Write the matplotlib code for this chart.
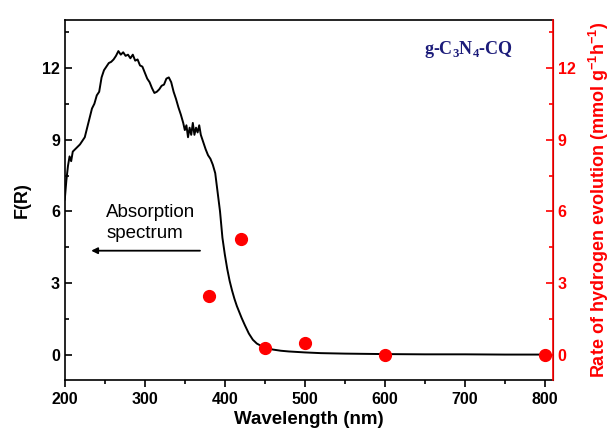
import matplotlib
matplotlib.use("Agg")
import matplotlib.pyplot as plt
from matplotlib.ticker import MultipleLocator

plt.rcParams['font.family'] = ['Liberation Sans', 'DejaVu Sans']
plt.rcParams['mathtext.fontset'] = 'custom'
plt.rcParams['mathtext.rm'] = 'Liberation Sans:bold'
plt.rcParams['mathtext.bf'] = 'Liberation Serif:bold'

# absorption spectrum, F(R) vs wavelength
wavelength = [200, 202, 204, 206, 208, 210, 213, 216, 219, 222, 225, 228, 231, 234,
              237, 240, 243, 246, 249, 252, 255, 258, 261, 264, 267, 270, 273, 276,
              279, 282, 285, 288, 291, 294, 297, 300, 303, 306, 309, 312, 315, 318,
              321, 324, 327, 330, 333, 336, 339, 342, 345, 348, 350, 352, 354, 356,
              358, 360, 362, 364, 366, 368, 370, 373, 376, 379, 382, 385, 388, 391,
              394, 397, 400, 403, 406, 409, 412, 415, 418, 421, 425, 430, 435, 440,
              445, 450, 455, 460, 470, 480, 500, 520, 550, 600, 650, 700, 750, 800]
f_r = [6.5, 7.3, 7.9, 8.3, 8.1, 8.5, 8.6, 8.7, 8.8, 8.95, 9.1, 9.5, 9.9, 10.3,
       10.5, 10.85, 11.0, 11.6, 11.9, 12.05, 12.2, 12.25, 12.35, 12.5, 12.7, 12.55, 12.65, 12.5,
       12.55, 12.4, 12.55, 12.3, 12.35, 12.1, 12.05, 11.8, 11.55, 11.4, 11.15, 10.95, 11.0, 11.1,
       11.25, 11.3, 11.55, 11.6, 11.4, 11.0, 10.7, 10.35, 10.05, 9.7, 9.4, 9.6, 9.1, 9.5,
       9.2, 9.7, 9.2, 9.5, 9.3, 9.6, 9.2, 8.9, 8.6, 8.35, 8.2, 7.95, 7.6, 6.8,
       6.0, 4.9, 4.2, 3.6, 3.1, 2.7, 2.35, 2.05, 1.8, 1.55, 1.25, 0.9, 0.64, 0.48,
       0.39, 0.32, 0.27, 0.23, 0.18, 0.15, 0.11, 0.08, 0.06, 0.04, 0.03, 0.03, 0.02, 0.02]

# hydrogen evolution rate at each irradiation wavelength
h2_wavelength = [380, 420, 450, 500, 600, 800]
h2_rate = [2.48, 4.85, 0.3, 0.52, 0.02, 0.02]

red = '#ff0000'

fig = plt.figure(figsize=(6.11, 4.34), dpi=100)
ax = fig.add_axes([0.106, 0.124, 0.799, 0.830])
ax2 = ax.twinx()

ax.plot(wavelength, f_r, color='black', lw=1.4)
ax2.plot(h2_wavelength, h2_rate, 'o', color=red, ms=8.5, clip_on=False, zorder=5)

ax.set_xlim(200, 810)
ax.set_ylim(-1.05, 14.0)
ax2.set_ylim(-1.05, 14.0)

ax.xaxis.set_major_locator(MultipleLocator(100))
ax.xaxis.set_minor_locator(MultipleLocator(50))
ax.yaxis.set_major_locator(MultipleLocator(3))
ax.yaxis.set_minor_locator(MultipleLocator(1.5))
ax2.yaxis.set_major_locator(MultipleLocator(3))
ax2.yaxis.set_minor_locator(MultipleLocator(1.5))

ax.tick_params(axis='x', which='both', direction='out', top=False, labelsize=11.5, width=1.2)
ax.tick_params(axis='x', which='major', length=5)
ax.tick_params(axis='x', which='minor', length=3)
ax.tick_params(axis='y', which='both', direction='in', right=False, labelsize=11.5, width=1.2)
ax.tick_params(axis='y', which='major', length=5)
ax.tick_params(axis='y', which='minor', length=3)
ax2.tick_params(axis='y', which='both', direction='in', colors=red, labelsize=11.5, width=1.2)
ax2.tick_params(axis='y', which='major', length=5)
ax2.tick_params(axis='y', which='minor', length=3)

for lab in ax.get_xticklabels() + ax.get_yticklabels() + ax2.get_yticklabels():
    lab.set_fontweight('bold')

for s in ['left', 'bottom', 'top']:
    ax.spines[s].set_linewidth(1.2)
ax2.spines['right'].set_color(red)
ax2.spines['right'].set_linewidth(1.2)
ax2.spines['left'].set_visible(False)
ax2.spines['top'].set_visible(False)
ax2.spines['bottom'].set_visible(False)

ax.set_xlabel('Wavelength (nm)', fontsize=13.5, fontweight='bold', labelpad=3)
ax.set_ylabel('F(R)', fontsize=13, fontweight='bold', labelpad=8)
ax2.set_ylabel(r'Rate of hydrogen evolution (mmol g$^{\mathrm{-1}}$h$^{\mathrm{-1}}$)',
               fontsize=13, fontweight='bold', color=red, labelpad=8)

ax.text(252, 5.5, 'Absorption\nspectrum', fontsize=13.5, ha='left', va='center',
        linespacing=1.3)
ax.annotate('', xy=(233, 4.36), xytext=(369, 4.36),
            arrowprops=dict(arrowstyle='-|>', color='black', lw=1.3,
                            mutation_scale=9, shrinkA=0, shrinkB=0))

ax.text(0.828, 0.919, r'g-C$_\mathbf{3}$N$_\mathbf{4}$-CQ', transform=ax.transAxes,
        ha='center', va='center', fontsize=13, fontweight='bold',
        family='Liberation Serif', color='#1c1c7a')

fig.savefig('out.png', dpi=100)
